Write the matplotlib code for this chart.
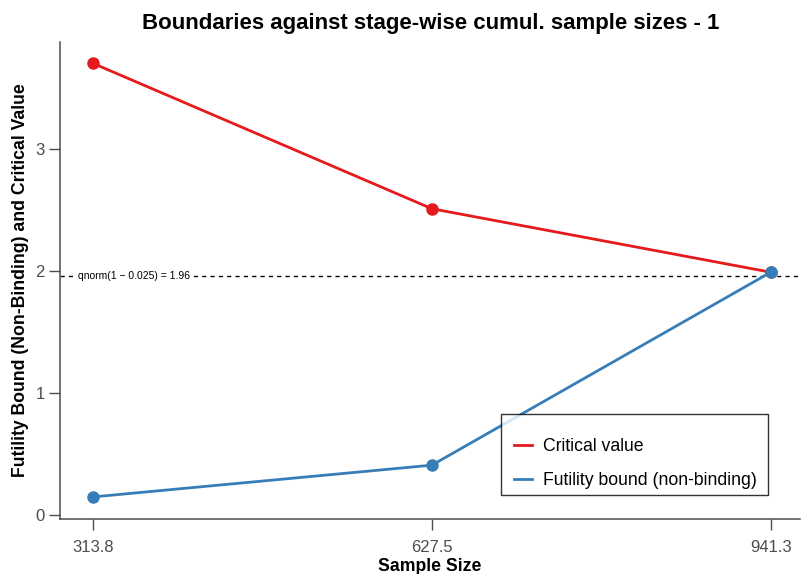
import matplotlib
matplotlib.use("Agg")
import matplotlib.pyplot as plt
from matplotlib.lines import Line2D
from matplotlib.legend_handler import HandlerLine2D

plt.rcParams["font.family"] = ["Liberation Sans", "DejaVu Sans"]

# data
sample_sizes = [313.8, 627.5, 941.3]
tick_labels = ["313.8", "627.5", "941.3"]
critical_values = [3.70, 2.51, 1.99]
futility_bounds = [0.15, 0.41, 1.99]
ref_value = 1.96

RED = "#E41A1C"
BLUE = "#377EB8"
GREY = "#4D4D4D"

fig = plt.figure(figsize=(8.02, 5.74), dpi=100)
ax = fig.add_axes([0.075, 0.096, 0.922, 0.831])

ax.axhline(ref_value, color="black", linestyle=(0, (3, 3)), linewidth=1.0, zorder=1)
ax.text(0.024, ref_value, "qnorm(1 \u2212 0.025) = 1.96", transform=ax.get_yaxis_transform(),
        fontsize=7.5, va="center", ha="left",
        bbox=dict(boxstyle="square,pad=0.25", fc="white", ec="none"), zorder=2)

ax.plot(sample_sizes, critical_values, color=RED, linewidth=2, marker="o", markersize=8, zorder=3)
ax.plot(sample_sizes, futility_bounds, color=BLUE, linewidth=2, marker="o", markersize=8, zorder=3)

ax.set_xlim(283.3, 968)
ax.set_ylim(-0.03, 3.876)
ax.set_xticks(sample_sizes)
ax.set_xticklabels(tick_labels)
ax.set_yticks([0, 1, 2, 3])

for side in ["top", "right"]:
    ax.spines[side].set_visible(False)
for side in ["left", "bottom"]:
    ax.spines[side].set_color(GREY)
    ax.spines[side].set_linewidth(1.1)
ax.tick_params(colors=GREY, labelsize=12, length=8, width=1.0, labelcolor=GREY)
ax.tick_params(axis="y", pad=3)
ax.tick_params(axis="x", pad=7)

ax.set_xlabel("Sample Size", fontsize=12.7, fontweight="bold", labelpad=2)
ax.set_ylabel("Futility Bound (Non-Binding) and Critical Value", fontsize=12.7,
              fontweight="bold", labelpad=5)
fig.suptitle("Boundaries against stage-wise cumul. sample sizes - 1", x=0.537, y=0.978,
             fontsize=16, fontweight="bold")

handles = [Line2D([], [], color=RED, linewidth=2), Line2D([], [], color=BLUE, linewidth=2)]
leg = ax.legend(handles, ["Critical value", "Futility bound (non-binding) "],
                loc="lower left", bbox_to_anchor=(0.596, 0.05), fontsize=12.7,
                frameon=True, fancybox=False, borderpad=0.35, handlelength=1.4,
                handletextpad=0.65, labelspacing=0.95, borderaxespad=0,
                title=" ", title_fontsize=1,
                handler_map={Line2D: HandlerLine2D(xpad=0.4)})
leg.get_frame().set_edgecolor("black")
leg.get_frame().set_linewidth(1.0)

fig.savefig("out.png", dpi=100, facecolor="white")
